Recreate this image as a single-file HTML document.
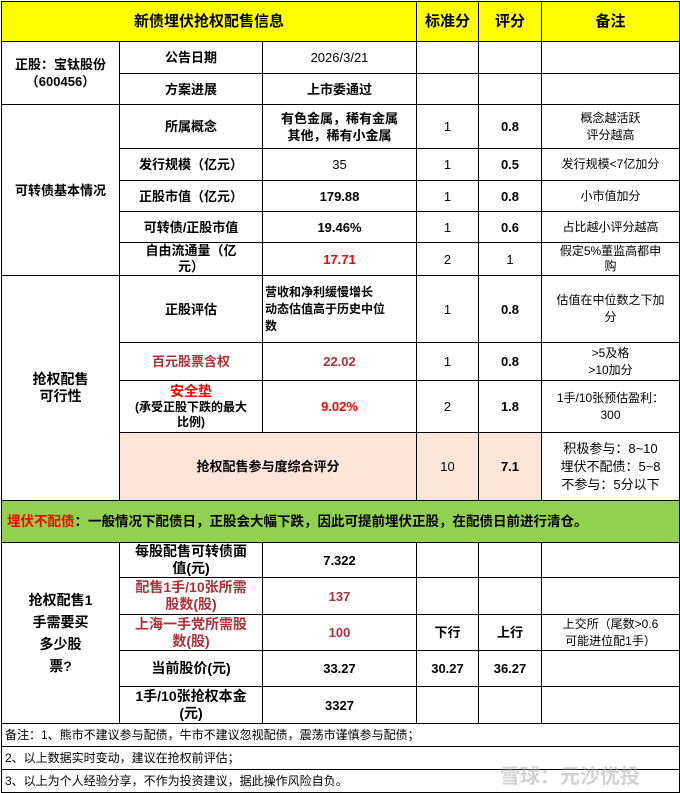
<!DOCTYPE html>
<html><head><meta charset="utf-8"><style>
body{margin:0;background:#fff;width:680px;height:793px;overflow:hidden;position:relative}
table{position:absolute;left:1px;top:1px;border-collapse:collapse;table-layout:fixed;width:678px;font-family:"Liberation Sans","Noto Sans CJK SC",sans-serif;font-size:13px;color:#000}
td{border:1px solid #000;text-align:center;vertical-align:middle;padding:0 2px;line-height:17px;overflow:hidden}
.b{font-weight:bold}
.y{background:#ffff00;font-weight:bold;font-size:15px}
.p{background:#fce4d6}
.r{color:#ff0000}
.dr{color:#b0303a}
.s{font-size:12px}
.n{text-align:left;font-size:12px;padding-left:3px}
.wm{position:absolute;left:500px;top:760px;font-family:"Noto Sans CJK SC",sans-serif;font-size:20px;color:rgba(180,180,180,0.6);font-weight:bold}
</style></head><body>
<table>
<colgroup><col style="width:118px"><col style="width:143px"><col style="width:154px"><col style="width:62px"><col style="width:63px"><col style="width:138px"></colgroup>
<tr style="height:40px"><td class="y" colspan="3">新债埋伏抢权配售信息</td><td class="y">标准分</td><td class="y">评分</td><td class="y">备注</td></tr>
<tr style="height:32px"><td rowspan="2" class="b">正股：宝钛股份<br>（600456）</td><td class="b">公告日期</td><td>2026/3/21</td><td></td><td></td><td></td></tr>
<tr style="height:31px"><td class="b">方案进展</td><td class="b">上市委通过</td><td></td><td></td><td></td></tr>
<tr style="height:44px"><td rowspan="5" class="b">可转债基本情况</td><td class="b">所属概念</td><td class="b">有色金属，稀有金属<br>其他，稀有小金属</td><td>1</td><td class="b">0.8</td><td class="s">概念越活跃<br>评分越高</td></tr>
<tr style="height:32px"><td class="b">发行规模（亿元）</td><td>35</td><td>1</td><td class="b">0.5</td><td class="s">发行规模&lt;7亿加分</td></tr>
<tr style="height:31px"><td class="b">正股市值（亿元）</td><td class="b">179.88</td><td>1</td><td class="b">0.8</td><td class="s">小市值加分</td></tr>
<tr style="height:31px"><td class="b">可转债/正股市值</td><td class="b">19.46%</td><td>1</td><td class="b">0.6</td><td class="s">占比越小评分越高</td></tr>
<tr style="height:31px"><td class="b" style="line-height:16px">自由流通量（亿<br>元）</td><td class="b r">17.71</td><td>2</td><td>1</td><td class="s" style="line-height:15px">假定5%董监高都申<br>购</td></tr>
<tr style="height:67px"><td rowspan="4" class="b" style="font-size:14px">抢权配售<br>可行性</td><td class="b">正股评估</td><td class="b" style="text-align:left;font-size:12px">营收和净利缓慢增长<br>动态估值高于历史中位<br>数</td><td>1</td><td class="b">0.8</td><td class="s">估值在中位数之下加<br>分</td></tr>
<tr style="height:38px"><td class="b dr">百元股票含权</td><td class="b dr">22.02</td><td>1</td><td class="b">0.8</td><td class="s">&gt;5及格<br>&gt;10加分</td></tr>
<tr style="height:52px"><td class="b" style="font-size:12px;line-height:15px"><span class="r" style="font-size:14px">安全垫</span><br>(承受正股下跌的最大<br>比例)</td><td class="b r">9.02%</td><td>2</td><td class="b">1.8</td><td class="s">1手/10张预估盈利：<br>300</td></tr>
<tr style="height:68px"><td colspan="2" class="p b">抢权配售参与度综合评分</td><td class="p">10</td><td class="p b">7.1</td><td style="font-size:13px;line-height:18px">积极参与：8~10<br>埋伏不配债：5~8<br>不参与：5分以下</td></tr>
<tr style="height:42px"><td colspan="6" class="b" style="background:#92d050;text-align:left;font-size:13.5px;padding-left:5px"><span class="r">埋伏不配债</span>：一般情况下配债日，正股会大幅下跌，因此可提前埋伏正股，在配债日前进行清仓。</td></tr>
<tr style="height:35px"><td rowspan="5" class="b" style="font-size:14px;line-height:22px">抢权配售1<br>手需要买<br>多少股<br>票?</td><td class="b" style="font-size:14px">每股配售可转债面<br>值(元)</td><td class="b">7.322</td><td></td><td></td><td></td></tr>
<tr style="height:37px"><td class="b dr" style="font-size:14px">配售1手/10张所需<br>股数(股)</td><td class="b dr">137</td><td></td><td></td><td></td></tr>
<tr style="height:36px"><td class="b dr" style="font-size:14px">上海一手党所需股<br>数(股)</td><td class="b dr">100</td><td class="b">下行</td><td class="b">上行</td><td class="s">上交所（尾数&gt;0.6<br>可能进位配1手）</td></tr>
<tr style="height:36px"><td class="b" style="font-size:14px">当前股价(元)</td><td class="b">33.27</td><td class="b">30.27</td><td class="b">36.27</td><td></td></tr>
<tr style="height:37px"><td class="b" style="font-size:14px">1手/10张抢权本金<br>(元)</td><td class="b">3327</td><td></td><td></td><td></td></tr>
<tr style="height:23px"><td colspan="6" class="n">备注：1、熊市不建议参与配债，牛市不建议忽视配债，震荡市谨慎参与配债；</td></tr>
<tr style="height:23px"><td colspan="6" class="n">2、以上数据实时变动，建议在抢权前评估；</td></tr>
<tr style="height:23px"><td colspan="6" class="n">3、以上为个人经验分享，不作为投资建议，据此操作风险自负。</td></tr>
</table>
<div class="wm">雪球：元沙优投</div>
</body></html>
